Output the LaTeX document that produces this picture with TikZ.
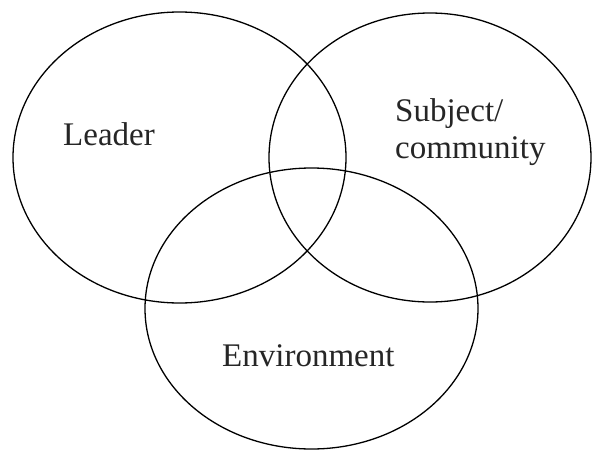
\documentclass[tikz,border=0pt]{standalone}
\usepackage{fontspec}
\setmainfont{Liberation Serif}
\usetikzlibrary{shapes.geometric}
\begin{document}
\begin{tikzpicture}[x=1pt, y=-1pt,
  ring/.style={draw=black, line width=1.3pt, ellipse, inner sep=0pt},
  lbl/.style={anchor=base west, inner sep=0pt, font=\fontsize{33}{37}\selectfont, text=black!85}]
  \useasboundingbox[fill=white] (0,0) rectangle (592,450);
  % the three overlapping sets
  \node[ring, minimum width=333pt, minimum height=291pt] (leader) at (179.5,157.5) {};
  \node[ring, minimum width=322pt, minimum height=289pt] (subject) at (430,157.5) {};
  \node[ring, minimum width=333pt, minimum height=281pt] (env) at (311.5,308.5) {};
  % set labels
  \node[lbl] (tleader) at (63,145) {Leader};
  \node[lbl] (tsubject) at (395,121) {Subject/};
  \node[lbl] (tcommunity) at (395,158) {community};
  \node[lbl] (tenv) at (222,366) {Environment};
\end{tikzpicture}
\end{document}
